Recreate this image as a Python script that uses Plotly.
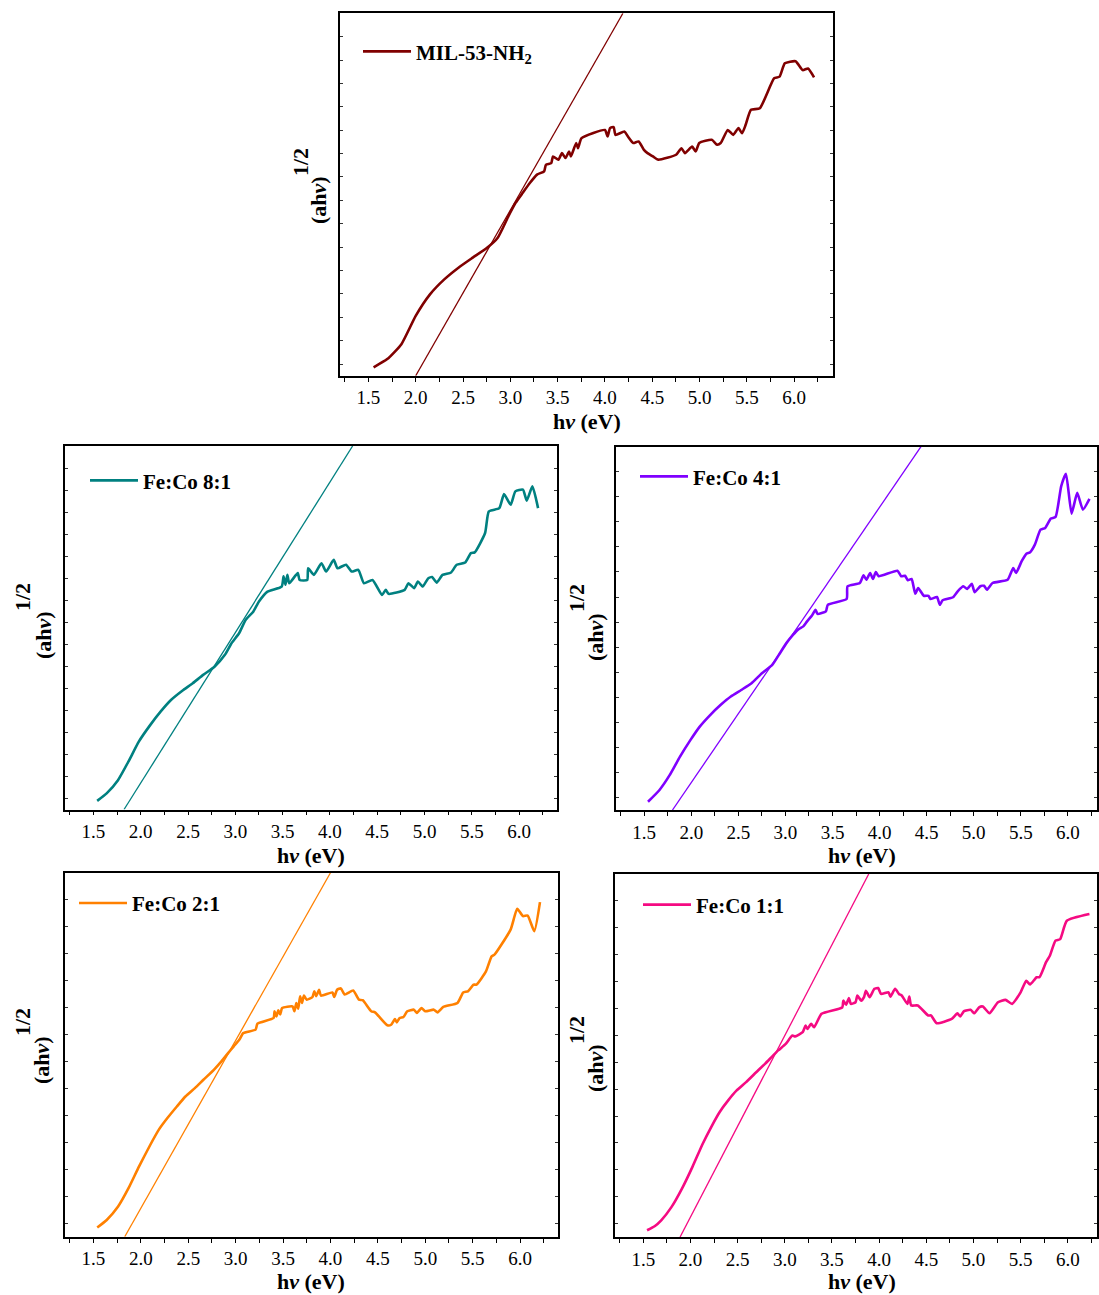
import plotly.graph_objects as go

W, H = 1099, 1295

# ---------------- data ----------------
names = ["MIL-53-NH<sub>2</sub>", "Fe:Co 8:1", "Fe:Co 4:1", "Fe:Co 2:1", "Fe:Co 1:1"]
colors = ["#800000", "#008080", "#8000FF", "#FF8000", "#F50A82"]

x_mil = [1.555, 1.699, 1.849, 2.0, 2.151, 2.302, 2.452, 2.603, 2.754, 2.867, 2.98, 3.055, 3.131, 3.206,
         3.282, 3.357, 3.376, 3.432, 3.451, 3.508, 3.546, 3.583, 3.621, 3.64, 3.696, 3.715, 3.753, 4.0,
         4.028, 4.054, 4.092, 4.111, 4.205, 4.243, 4.299, 4.356, 4.412, 4.45, 4.507, 4.563, 4.752, 4.808,
         4.846, 4.921, 4.959, 4.997, 5.129, 5.185, 5.223, 5.298, 5.355, 5.411, 5.449, 5.487, 5.543, 5.637,
         5.788, 5.845, 5.901, 6.014, 6.09, 6.146, 6.21]
y_mil = [-0.14, 0.21, 0.85, 2.06, 2.98, 3.62, 4.12, 4.55, 4.97, 5.40, 6.32, 6.89, 7.32, 7.74,
         8.10, 8.24, 8.52, 8.59, 8.88, 8.74, 9.02, 8.81, 9.09, 8.88, 9.45, 9.23, 9.66, 10.01,
         9.73, 10.09, 10.13, 9.80, 9.94, 9.73, 9.45, 9.52, 9.16, 9.02, 8.88, 8.74, 8.95, 9.23,
         9.02, 9.30, 9.09, 9.45, 9.59, 9.38, 9.45, 10.01, 9.80, 10.09, 9.87, 10.23, 10.87, 10.94,
         12.22, 12.29, 12.86, 12.95, 12.57, 12.64, 12.26]

x_81 = [1.54, 1.64, 1.76, 1.87, 1.98, 2.10, 2.21, 2.32, 2.44, 2.55, 2.66, 2.78, 2.89, 2.96, 3.04, 3.11,
        3.19, 3.25, 3.34, 3.49, 3.51, 3.53, 3.55, 3.57, 3.66, 3.68, 3.76, 3.77, 3.83, 3.91, 3.96, 4.04,
        4.08, 4.17, 4.23, 4.30, 4.36, 4.45, 4.55, 4.59, 4.62, 4.79, 4.83, 4.89, 4.93, 4.98, 5.04, 5.08,
        5.13, 5.19, 5.28, 5.34, 5.43, 5.49, 5.53, 5.64, 5.68, 5.79, 5.84, 5.91, 5.96, 6.04, 6.08, 6.14, 6.20]
y_81 = [-0.11, 0.23, 0.83, 1.67, 2.58, 3.33, 3.94, 4.47, 4.89, 5.23, 5.61, 5.98, 6.52, 7.05, 7.5, 8.11,
        8.48, 8.94, 9.39, 9.62, 10.08, 9.70, 10.15, 9.77, 10.23, 9.92, 9.92, 10.45, 10.15, 10.68, 10.30, 10.83,
        10.45, 10.61, 10.30, 10.38, 9.77, 9.92, 9.24, 9.47, 9.29, 9.47, 9.77, 9.55, 9.85, 9.62, 10.0, 10.05,
        9.80, 10.15, 10.26, 10.61, 10.71, 11.14, 11.17, 12.05, 13.03, 13.18, 13.82, 13.33, 13.94, 14.02, 13.52, 14.17, 13.18]

x_41 = [1.54, 1.66, 1.77, 1.88, 1.99, 2.09, 2.20, 2.31, 2.42, 2.53, 2.64, 2.75, 2.86, 2.93, 3.01, 3.08,
        3.14, 3.19, 3.23, 3.28, 3.32, 3.34, 3.43, 3.45, 3.65, 3.66, 3.79, 3.83, 3.86, 3.90, 3.93, 3.96,
        3.99, 4.19, 4.23, 4.27, 4.30, 4.34, 4.38, 4.41, 4.47, 4.52, 4.54, 4.61, 4.64, 4.67, 4.78, 4.83,
        4.89, 4.93, 4.98, 5.01, 5.07, 5.11, 5.14, 5.20, 5.36, 5.42, 5.45, 5.51, 5.56, 5.60, 5.65, 5.71,
        5.76, 5.82, 5.87, 5.93, 5.98, 6.04, 6.10, 6.16, 6.23]
y_41 = [-0.17, 0.29, 0.89, 1.63, 2.29, 2.83, 3.29, 3.69, 4.03, 4.29, 4.56, 4.96, 5.29, 5.69, 6.16, 6.49,
        6.72, 6.83, 7.03, 7.25, 7.49, 7.33, 7.43, 7.69, 7.92, 8.43, 8.56, 8.87, 8.69, 8.96, 8.72, 9.0,
        8.83, 9.05, 8.83, 8.85, 8.67, 8.72, 8.13, 8.36, 8.05, 8.05, 7.92, 8.0, 7.69, 7.87, 7.99, 8.23,
        8.43, 8.32, 8.53, 8.19, 8.43, 8.45, 8.29, 8.56, 8.69, 9.16, 8.96, 9.43, 9.73, 9.79, 10.09, 10.69,
        10.76, 11.13, 11.2, 12.43, 12.92, 11.33, 12.16, 11.49, 11.92]

x_21 = [1.54, 1.64, 1.76, 1.87, 1.98, 2.10, 2.19, 2.28, 2.38, 2.47, 2.57, 2.66, 2.77, 2.85, 2.92, 2.98,
        3.04, 3.08, 3.21, 3.23, 3.40, 3.41, 3.43, 3.45, 3.47, 3.49, 3.60, 3.62, 3.64, 3.66, 3.68, 3.70,
        3.72, 3.75, 3.81, 3.83, 3.85, 3.88, 3.90, 4.02, 4.04, 4.07, 4.11, 4.15, 4.24, 4.30, 4.34, 4.43,
        4.47, 4.60, 4.64, 4.68, 4.70, 4.73, 4.77, 4.81, 4.88, 4.91, 4.96, 5.00, 5.09, 5.13, 5.19, 5.34,
        5.40, 5.45, 5.51, 5.54, 5.64, 5.70, 5.73, 5.90, 5.97, 6.03, 6.08, 6.15, 6.21]
y_21 = [-0.16, 0.12, 0.62, 1.30, 2.10, 2.91, 3.47, 3.90, 4.33, 4.70, 5.01, 5.32, 5.69, 6.00, 6.31, 6.56,
        6.81, 7.05, 7.18, 7.40, 7.61, 7.86, 7.67, 7.90, 7.74, 7.98, 8.04, 7.86, 8.17, 7.96, 8.42, 8.17,
        8.44, 8.29, 8.39, 8.60, 8.42, 8.66, 8.44, 8.56, 8.39, 8.66, 8.71, 8.48, 8.63, 8.29, 8.27, 7.86,
        7.82, 7.34, 7.36, 7.57, 7.45, 7.61, 7.65, 7.86, 7.92, 7.80, 7.98, 7.86, 7.92, 7.82, 8.02, 8.17,
        8.56, 8.60, 8.85, 8.85, 9.34, 9.90, 9.96, 10.89, 11.66, 11.39, 11.41, 10.83, 11.91]

x_11 = [1.54, 1.62, 1.69, 1.80, 1.91, 2.02, 2.13, 2.22, 2.31, 2.40, 2.49, 2.59, 2.68, 2.79, 2.86, 2.93,
        3.01, 3.08, 3.11, 3.19, 3.22, 3.24, 3.28, 3.31, 3.39, 3.61, 3.62, 3.65, 3.68, 3.70, 3.75, 3.77,
        3.81, 3.84, 3.86, 3.90, 3.95, 3.99, 4.02, 4.10, 4.12, 4.17, 4.21, 4.24, 4.30, 4.32, 4.34, 4.41,
        4.52, 4.55, 4.61, 4.77, 4.83, 4.86, 4.90, 4.97, 5.01, 5.06, 5.10, 5.17, 5.26, 5.34, 5.41, 5.50,
        5.56, 5.60, 5.67, 5.70, 5.77, 5.81, 5.87, 5.92, 5.99, 6.23]
y_11 = [-0.25, -0.10, 0.12, 0.62, 1.30, 2.10, 2.97, 3.59, 4.15, 4.58, 4.95, 5.26, 5.57, 5.94, 6.19, 6.44,
        6.68, 6.99, 6.96, 7.12, 7.36, 7.24, 7.43, 7.30, 7.80, 8.04, 8.29, 8.14, 8.39, 8.17, 8.23, 8.48,
        8.29, 8.42, 8.66, 8.42, 8.73, 8.76, 8.54, 8.60, 8.44, 8.73, 8.54, 8.48, 8.17, 8.44, 8.11, 8.11,
        7.74, 7.74, 7.45, 7.61, 7.82, 7.70, 7.90, 7.95, 7.82, 8.04, 8.07, 7.82, 8.23, 8.32, 8.17, 8.60,
        9.03, 8.89, 9.16, 9.16, 9.72, 9.96, 10.52, 10.58, 11.26, 11.51]

# tangent (linear-fit) lines: two points each (eV, value)
tan_x = [[2.00, 4.19], [1.824, 4.24], [1.80, 4.44], [1.83, 4.00], [1.89, 3.89]]
tan_y = [[-0.5, 15.0], [-0.5, 16.0], [-0.5, 14.0], [-0.5, 13.0], [-0.5, 13.0]]

xs = [x_mil, x_81, x_41, x_21, x_11]
ys = [y_mil, y_81, y_41, y_21, y_11]

x_ranges = [[1.2, 6.41], [1.2, 6.40], [1.2, 6.31], [1.2, 6.40], [1.2, 6.31]]
y_ranges = [[-0.5, 15.0], [-0.5, 16.0], [-0.5, 14.0], [-0.5, 13.0], [-0.5, 13.0]]

# ---------------- layout geometry (pixels) ----------------
boxes = [  # left, right, top, bottom
    (340, 833, 13.3, 375.7),
    (65, 557, 446, 809.5),
    (616, 1097, 446.7, 810),
    (65, 558, 872.7, 1236.7),
    (615, 1097, 874, 1237),
]
ytitle_pos = [((318, 200), (300, 162)), ((43, 635), (23, 597)), ((595, 637), (576, 598)),
              ((41, 1060), (22, 1022)), ((595, 1068), (576, 1030))]
xtitle_pos = [(587, 421), (311, 855), (862, 855), (311, 1281), (862, 1281)]
legend_pos = [(364, 51.7), (91, 480.7), (641, 476.7), (80, 903.3), (644, 905)]

FONT = "Liberation Serif"

def px(x):
    return x / W

def py(y):
    return 1 - y / H

fig = go.Figure()
layout = dict(width=W, height=H, margin=dict(l=0, r=0, t=0, b=0),
              paper_bgcolor="white", plot_bgcolor="white",
              font=dict(family=FONT, color="black"), annotations=[])

for i in range(5):
    sfx = "" if i == 0 else str(i + 1)
    xa, ya = "x" + sfx, "y" + sfx
    leg = "legend" + sfx
    fig.add_trace(go.Scatter(x=xs[i], y=ys[i], mode="lines", name="<b>" + names[i] + "</b>",
                             line=dict(color=colors[i], width=2.6, shape="spline", smoothing=0.5),
                             xaxis=xa, yaxis=ya, legend=leg, showlegend=True))
    fig.add_trace(go.Scatter(x=tan_x[i], y=tan_y[i], mode="lines", line=dict(color=colors[i], width=1.3),
                             xaxis=xa, yaxis=ya, showlegend=False, hoverinfo="skip"))
    l, r, t, b = boxes[i]
    layout["xaxis" + sfx] = dict(domain=[px(l), px(r)], anchor=ya, range=x_ranges[i],
                                 tick0=0, dtick=0.5, tickformat=".1f", ticks="outside", ticklen=4,
                                 tickwidth=1.2, tickcolor="black",
                                 minor=dict(dtick=0.25, ticks="outside", ticklen=4, tickwidth=1.2,
                                            tickcolor="black", showgrid=False),
                                 showline=True, linecolor="black", linewidth=1.6, mirror=True,
                                 showgrid=False, zeroline=False,
                                 tickfont=dict(family=FONT, size=19, color="black"))
    layout["yaxis" + sfx] = dict(domain=[py(b), py(t)], anchor=xa, range=y_ranges[i],
                                 tick0=0, dtick=1, ticks="inside", ticklen=3, tickwidth=1,
                                 tickcolor="#333", showticklabels=False,
                                 showline=True, linecolor="black", linewidth=1.6, mirror="ticks",
                                 showgrid=False, zeroline=False)
    lx, ly = legend_pos[i]
    layout[leg] = dict(x=px(lx - 6), y=py(ly), xanchor="left", yanchor="middle",
                       bgcolor="rgba(0,0,0,0)", borderwidth=0, itemwidth=48,
                       font=dict(family=FONT, size=21, color="black"))
    (ax1, ay1), (ax2, ay2) = ytitle_pos[i]
    common = dict(xref="paper", yref="paper", showarrow=False, xanchor="center", yanchor="middle")
    layout["annotations"].append(dict(text="<b>(ah<i>ν</i>)</b>", x=px(ax1), y=py(ay1), textangle=-90,
                                      font=dict(family=FONT, size=22, color="black"), **common))
    layout["annotations"].append(dict(text="<b>1/2</b>", x=px(ax2), y=py(ay2), textangle=-90,
                                      font=dict(family=FONT, size=22, color="black"), **common))
    tx, ty = xtitle_pos[i]
    layout["annotations"].append(dict(text="<b>h<i>ν</i> (eV)</b>", x=px(tx), y=py(ty),
                                      font=dict(family=FONT, size=22, color="black"), **common))

fig.update_layout(**layout)
fig.write_html("out.html", config={"displayModeBar": False},
               post_script="document.body.style.margin='0';document.body.style.overflow='hidden';")
